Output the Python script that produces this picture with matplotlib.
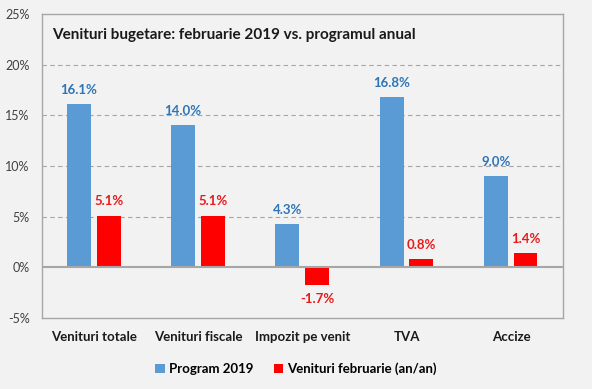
import numpy as np
import matplotlib.pyplot as plt

categorii = ["Venituri totale", "Venituri fiscale", "Impozit pe venit", "TVA", "Accize"]
program_2019 = [16.1, 14.0, 4.3, 16.8, 9.0]
venituri_feb = [5.1, 5.1, -1.7, 0.8, 1.4]

plt.rcParams['font.family'] = ['Lato', 'DejaVu Sans']

fig = plt.figure(figsize=(5.92, 3.89), dpi=100, facecolor="#f2f2f2")
ax = fig.add_axes([0.071, 0.1825, 0.88, 0.782])
ax.set_facecolor("#f2f2f2")

x = np.arange(len(categorii))
w = 0.23
b1 = ax.bar(x - 0.145, program_2019, w, color="#5b9bd5", label="Program 2019", zorder=3)
b2 = ax.bar(x + 0.14, venituri_feb, w, color="#ff0000", label="Venituri februarie (an/an)", zorder=3)

for r, v in zip(b1, program_2019):
    ax.text(r.get_x() + r.get_width() / 2, v + 0.8, f"{v:.1f}%", ha="center", va="bottom",
            color="#2e75b6", fontsize=9.5, fontweight="bold")
for r, v in zip(b2, venituri_feb):
    off = 0.8 if v >= 0 else -0.8
    ax.text(r.get_x() + r.get_width() / 2, v + off, f"{v:.1f}%", ha="center",
            va="bottom" if v >= 0 else "top", color="#e8191a", fontsize=9.5, fontweight="bold")

ax.set_xlim(-0.5, 4.5)
ax.set_ylim(-5, 25)
ax.set_yticks(range(-5, 26, 5))
ax.set_yticklabels([f"{t}%" for t in range(-5, 26, 5)], fontsize=9, color="#404040")
ax.set_xticks(x)
ax.set_xticklabels(categorii, fontsize=9.5, fontweight="bold", color="#1a1a1a")
ax.tick_params(length=0)
ax.tick_params(axis="x", pad=9)
ax.tick_params(axis="y", pad=9)

for t in range(5, 25, 5):
    ax.axhline(t, color="#a6a6a6", lw=0.8, ls=(0, (4, 3)), zorder=1)
ax.axhline(0, color="#a6a6a6", lw=1.5, zorder=4)
for s in ax.spines.values():
    s.set_color("#a6a6a6")
    s.set_linewidth(1)

ax.text(0.02, 0.93, "Venituri bugetare: februarie 2019 vs. programul anual", transform=ax.transAxes,
        fontsize=11, fontweight="bold", color="#1a1a1a", va="center")

fig.legend(loc="center", bbox_to_anchor=(0.5, 0.052), ncol=2, frameon=False,
           handlelength=0.7, handleheight=0.7, handletextpad=0.3, columnspacing=1.6,
           prop={"weight": "bold", "size": 9.5})

fig.savefig("out.png", dpi=100, facecolor=fig.get_facecolor())
